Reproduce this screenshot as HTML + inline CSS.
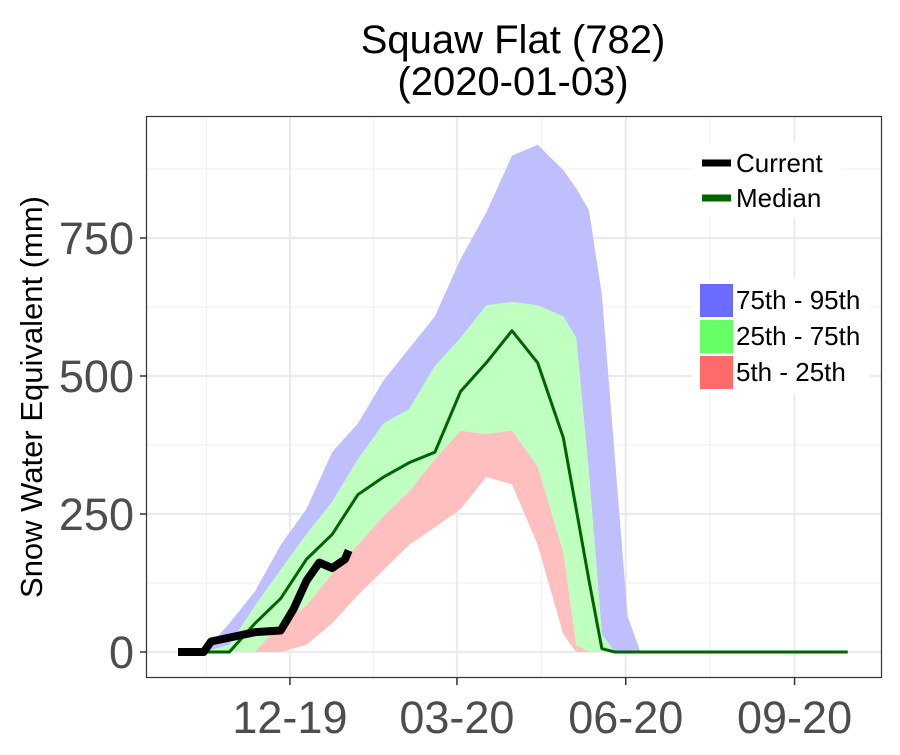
<!DOCTYPE html>
<html><head><meta charset="utf-8"><style>
body{margin:0;background:#fff;font-family:"Liberation Sans",sans-serif}
svg text{font-family:"Liberation Sans",sans-serif}
</style></head><body>
<svg id="chart" width="900" height="750" xmlns="http://www.w3.org/2000/svg">
<rect width="900" height="750" fill="#fff"/>
<text x="513" y="53" font-size="40" text-anchor="middle">Squaw Flat (782)</text>
<text x="513" y="95" font-size="40" text-anchor="middle">(2020-01-03)</text>
<g id="grid"></g>
<g id="bands"></g>
<g id="lines"></g>
<rect x="146.5" y="116.5" width="735" height="561" fill="none" stroke="#333" stroke-width="1.2"/>
<g id="axes"></g>
<text transform="translate(42,397) rotate(-90)" font-size="31" text-anchor="middle">Snow Water Equivalent (mm)</text>
<g>
<rect x="692" y="142" width="150" height="76" fill="#fff"/>
<line x1="702" y1="163" x2="731" y2="163" stroke="#000" stroke-width="7"/>
<text x="736" y="172" font-size="26">Current</text>
<line x1="702" y1="198" x2="731" y2="198" stroke="#006400" stroke-width="7"/>
<text x="736" y="207" font-size="26">Median</text>
</g>
<g>
<rect x="692" y="278" width="178" height="116" fill="#fff"/>
<rect x="700" y="284" width="33" height="33" fill="#6b6bff"/>
<text x="736" y="309" font-size="26">75th - 95th</text>
<rect x="700" y="320" width="33" height="33" fill="#66ff66"/>
<text x="736" y="345" font-size="26">25th - 75th</text>
<rect x="700" y="356" width="33" height="33" fill="#ff6b6b"/>
<text x="736" y="381" font-size="26">5th - 25th</text>
</g>
</svg>
<script>
const days   = [0,14,28,42,56,70,84,98,112,126,140,154,168,182,196,210,217,224,231,238,245,252,365];
const p95    = [0,0,52,110,194,259,362,414,492,550,608,712,796,899,919,873,840,800,647,356,65,0,0];
const p75    = [0,0,13,84,149,213,272,349,414,440,518,569,628,634,628,608,569,323,32,0,0,0,0];
const p25    = [0,0,0,0,52,84,142,194,246,291,349,401,395,401,336,180,13,0,0,0,0,0,0];
const p5     = [0,0,0,0,0,13,52,103,149,194,226,259,317,304,194,32,0,0,0,0,0,0,0];
const median = [0,0,0,52,97,168,213,285,317,343,362,472,524,582,524,388,259,129,6,0,0,0,0];
const curDays = [0,14,18,28,42,56,63,70,77,84,91,93];
const current = [0,0,19,26,36,39,78,129,162,152,168,184];
const yTicks = [0,250,500,750];
const yMinor = [125,375,625,875];
const xTickDays = [61,152,244,336];
const xTickLabels = ["12-19","03-20","06-20","09-20"];
const xMinorDays = [15.5,106.5,198,290];

const X = d => 178 + d*1.835;
const Y = v => 652 - v*0.552;
const NS = "http://www.w3.org/2000/svg";
function mk(tag, attrs, parent){const e=document.createElementNS(NS,tag);for(const k in attrs)e.setAttribute(k,attrs[k]);parent.appendChild(e);return e;}
const grid=document.getElementById('grid'), bands=document.getElementById('bands'), lines=document.getElementById('lines'), axes=document.getElementById('axes');
yMinor.forEach(v=>{const l=mk('line',{x1:147,x2:881,y1:Y(v),y2:Y(v),stroke:'#f2f2f2','stroke-width':1.2},grid);

});
xMinorDays.forEach(d=>{const l=mk('line',{x1:X(d),x2:X(d),y1:117,y2:677,stroke:'#f2f2f2','stroke-width':1.2},grid);

});
yTicks.forEach(v=>{const l=mk('line',{x1:147,x2:881,y1:Y(v),y2:Y(v),stroke:'#ebebeb','stroke-width':2.2},grid);


const t=mk('line',{x1:140,x2:146,y1:Y(v),y2:Y(v),stroke:'#333','stroke-width':1.5},axes);


const tx=mk('text',{x:134,y:Y(v)+16,'font-size':45,'text-anchor':'end',fill:'#4d4d4d'},axes);tx.textContent=v;

});
xTickDays.forEach((d,i)=>{const l=mk('line',{x1:X(d),x2:X(d),y1:117,y2:677,stroke:'#ebebeb','stroke-width':2.2},grid);


const t=mk('line',{x1:X(d),x2:X(d),y1:678,y2:685,stroke:'#333','stroke-width':1.5},axes);


const tx=mk('text',{x:X(d),y:733,'font-size':45,'text-anchor':'middle',fill:'#4d4d4d'},axes);tx.textContent=xTickLabels[i];

});
function band(lo,hi,fill,name){let pts=days.map((d,i)=>X(d)+','+Y(hi[i]));for(let i=days.length-1;i>=0;i--)pts.push(X(days[i])+','+Y(lo[i]));
const p=mk('polygon',{points:pts.join(' '),fill:fill},bands);

}
band(p75,p95,'#bfbffd','band-75-95');
band(p25,p75,'#bfffbf','band-25-75');
band(p5,p25,'#ffbfbf','band-5-25');
const m=mk('polyline',{points:days.map((d,i)=>X(d)+','+Y(median[i])).join(' '),fill:'none',stroke:'#006400','stroke-width':3,'stroke-linejoin':'round'},lines);


const c=mk('polyline',{points:curDays.map((d,i)=>X(d)+','+Y(current[i])).join(' '),fill:'none',stroke:'#000','stroke-width':8,'stroke-linejoin':'round'},lines);


</script>
</body></html>
